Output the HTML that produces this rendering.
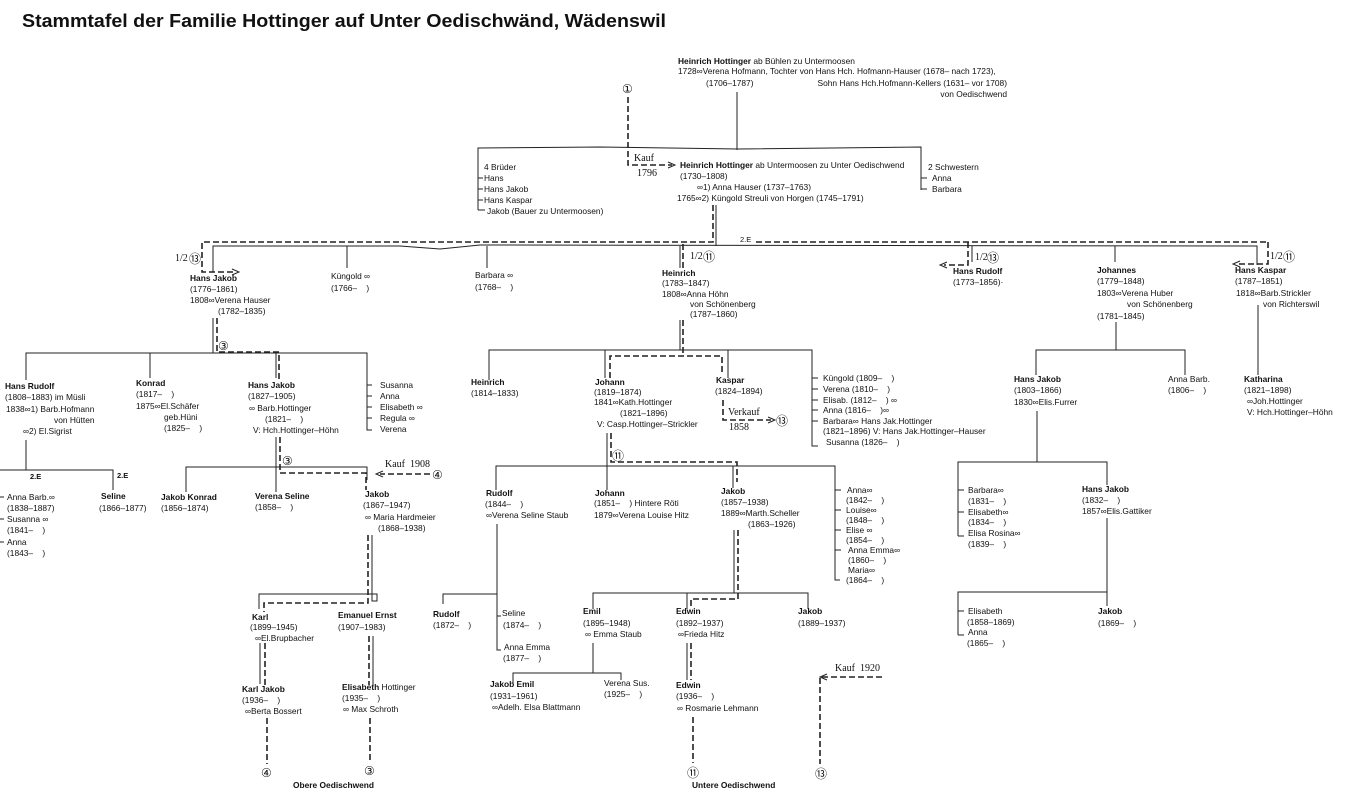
<!DOCTYPE html>
<html><head><meta charset="utf-8"><style>
html,body{margin:0;padding:0;background:#fff;}
svg{display:block;}
text{font-family:"Liberation Sans","DejaVu Sans",sans-serif;font-size:8.4px;fill:#111;}
.b{font-weight:bold;}
.s{font-family:"Liberation Serif",serif;font-size:10px;}
.c{font-family:"DejaVu Sans","Noto Sans CJK JP",sans-serif;font-size:12px;}
line,polyline,path{stroke:#222;stroke-width:1;fill:none;}
.d{stroke-dasharray:6,3;stroke-width:1.6;}
</style></head><body>
<svg width="1345" height="800" viewBox="0 0 1345 800" xmlns="http://www.w3.org/2000/svg">
<text x="22" y="27" class="b" style="font-size:18px" textLength="644" lengthAdjust="spacingAndGlyphs">Stammtafel der Familie Hottinger auf Unter Oedischwänd, Wädenswil</text>

<!-- top -->
<text x="678" y="64"><tspan class="b">Heinrich Hottinger</tspan> ab Bühlen zu Untermoosen</text>
<text x="678" y="74">1728∞Verena Hofmann, Tochter von Hans Hch. Hofmann-Hauser (1678– nach 1723),</text>
<text x="706" y="86">(1706–1787)</text>
<text x="1007" y="86" text-anchor="end">Sohn Hans Hch.Hofmann-Kellers (1631– vor 1708)</text>
<text x="1007" y="97" text-anchor="end">von Oedischwend</text>
<line x1="737" y1="92" x2="737" y2="150"/>
<text x="622" y="93" class="c">①</text>
<polyline class="d" points="628,97 628,165 672,165"/>
<path d="M668,162 L675,165 L668,168"/>
<text x="634" y="161" class="s">Kauf</text><text x="637" y="176" class="s">1796</text>
<polyline points="478,210 478,148 600,147 738,149 921,147 921,190"/>
<text x="484" y="170">4 Brüder</text>
<text x="484" y="181">Hans</text><text x="484" y="192">Hans Jakob</text><text x="484" y="203">Hans Kaspar</text><text x="487" y="214">Jakob (Bauer zu Untermoosen)</text>
<line x1="478" y1="178" x2="483" y2="178"/><line x1="478" y1="189" x2="483" y2="189"/><line x1="478" y1="200" x2="483" y2="200"/><line x1="478" y1="210" x2="485" y2="210"/>
<text x="680" y="168"><tspan class="b">Heinrich Hottinger</tspan> ab Untermoosen zu Unter Oedischwend</text>
<text x="680" y="179">(1730–1808)</text>
<text x="697" y="190">∞1) Anna Hauser (1737–1763)</text>
<text x="677" y="201">1765∞2) Küngold Streuli von Horgen (1745–1791)</text>
<text x="928" y="170">2 Schwestern</text><text x="932" y="181">Anna</text><text x="932" y="192">Barbara</text>
<line x1="921" y1="178" x2="927" y2="178"/><line x1="921" y1="189" x2="927" y2="189"/>

<!-- level 2 -->
<line x1="716" y1="205" x2="716" y2="246"/>
<polyline class="d" points="713,205 713,242 202,242 202,272 236,272"/>
<path d="M232,269 L239,272 L232,275"/>
<polyline points="213,272 213,246 400,246 440,249 480,245 1257,246 1257,265"/>
<text x="740" y="242" style="font-size:7.5px">2.E</text>
<line class="d" x1="756" y1="242" x2="1268" y2="242"/>
<text x="175" y="261" class="s">1/2</text><text x="189" y="263" class="c">⑬</text>
<text x="190" y="281" class="b">Hans Jakob</text>
<text x="190" y="292">(1776–1861)</text><text x="190" y="303">1808∞Verena Hauser</text><text x="218" y="314">(1782–1835)</text>
<line x1="347" y1="246" x2="347" y2="268"/>
<text x="331" y="279">Küngold ∞</text><text x="331" y="291">(1766–&#160;&#160;&#160;&#160;)</text>
<line x1="487" y1="246" x2="487" y2="268"/>
<text x="475" y="278">Barbara ∞</text><text x="475" y="290">(1768–&#160;&#160;&#160;&#160;)</text>
<line class="d" x1="683" y1="244" x2="683" y2="268"/><line x1="680" y1="246" x2="680" y2="268"/>
<text x="690" y="259" class="s">1/2</text><text x="703" y="261" class="c">⑪</text>
<text x="662" y="276" class="b">Heinrich</text>
<text x="662" y="286">(1783–1847)</text><text x="662" y="297">1808∞Anna Höhn</text><text x="690" y="307">von Schönenberg</text><text x="690" y="317">(1787–1860)</text>
<line x1="972" y1="246" x2="972" y2="262"/>
<polyline class="d" points="968,242 968,265 944,265"/><path d="M947,262 L940,265 L947,268"/>
<text x="975" y="260" class="s">1/2</text><text x="987" y="262" class="c">⑬</text>
<text x="953" y="274" class="b">Hans Rudolf</text><text x="953" y="285">(1773–1856)·</text>
<line x1="1115" y1="246" x2="1115" y2="262"/>
<text x="1097" y="273" class="b">Johannes</text>
<text x="1097" y="284">(1779–1848)</text><text x="1097" y="296">1803∞Verena Huber</text><text x="1127" y="307">von Schönenberg</text><text x="1097" y="319">(1781–1845)</text>
<polyline class="d" points="1268,242 1268,264 1237,264"/><path d="M1240,261 L1233,264 L1240,267"/>
<text x="1270" y="259" class="s">1/2</text><text x="1283" y="261" class="c">⑪</text>
<text x="1235" y="273" class="b">Hans Kaspar</text>
<text x="1235" y="284">(1787–1851)</text><text x="1236" y="296">1818∞Barb.Strickler</text><text x="1263" y="307">von Richterswil</text>
<line x1="1258" y1="305" x2="1258" y2="375"/>
<text x="1244" y="382" class="b">Katharina</text>
<text x="1244" y="393">(1821–1898)</text><text x="1247" y="404">∞Joh.Hottinger</text><text x="1247" y="415">V: Hch.Hottinger–Höhn</text>

<!-- Hans Jakob 1776 children -->
<line x1="213" y1="318" x2="213" y2="353"/>
<polyline class="d" points="217,318 217,352 279,352 279,380"/>
<text x="218" y="350" class="c">③</text>
<polyline points="26,380 26,353 367,353 367,430 372,430"/>
<line x1="150" y1="353" x2="150" y2="378"/><line x1="276" y1="353" x2="276" y2="378"/>
<text x="5" y="389" class="b">Hans Rudolf</text>
<text x="5" y="400">(1808–1883) im Müsli</text><text x="6" y="412">1838∞1) Barb.Hofmann</text><text x="54" y="423">von Hütten</text><text x="23" y="434">∞2) El.Sigrist</text>
<text x="136" y="386" class="b">Konrad</text>
<text x="136" y="397">(1817–&#160;&#160;&#160;&#160;)</text><text x="136" y="409">1875∞El.Schäfer</text><text x="164" y="420">geb.Hüni</text><text x="164" y="431">(1825–&#160;&#160;&#160;&#160;)</text>
<text x="248" y="388" class="b">Hans Jakob</text>
<text x="248" y="399">(1827–1905)</text><text x="249" y="411">∞ Barb.Hottinger</text><text x="265" y="422">(1821–&#160;&#160;&#160;&#160;)</text><text x="253" y="433">V: Hch.Hottinger–Höhn</text>
<text x="380" y="388">Susanna</text><text x="380" y="399">Anna</text><text x="380" y="410">Elisabeth ∞</text><text x="380" y="421">Regula ∞</text><text x="380" y="432">Verena</text>
<line x1="367" y1="385" x2="372" y2="385"/><line x1="367" y1="396" x2="372" y2="396"/><line x1="367" y1="407" x2="372" y2="407"/><line x1="367" y1="418" x2="372" y2="418"/>

<polyline points="26,440 26,470 0,470"/>
<polyline points="26,470 113,470 113,490"/>
<text x="30" y="479" class="b" style="font-size:7.5px">2.E</text><text x="117" y="478" class="b" style="font-size:7.5px">2.E</text>
<text x="7" y="500">Anna Barb.∞</text><text x="7" y="511">(1838–1887)</text><text x="7" y="522">Susanna ∞</text><text x="7" y="533">(1841–&#160;&#160;&#160;&#160;)</text><text x="7" y="545">Anna</text><text x="7" y="556">(1843–&#160;&#160;&#160;&#160;)</text>
<line x1="0" y1="497" x2="4" y2="497"/><line x1="0" y1="519" x2="4" y2="519"/><line x1="0" y1="542" x2="4" y2="542"/>
<text x="101" y="499" class="b">Seline</text><text x="99" y="511">(1866–1877)</text>

<line x1="276" y1="437" x2="276" y2="492"/>
<polyline points="186,492 186,467 367,467 367,480"/>
<polyline class="d" points="280,437 280,473 366,473 366,490"/>
<text x="282" y="465" class="c">③</text>
<text x="385" y="467" class="s">Kauf&#160;&#160;1908</text>
<line class="d" x1="430" y1="474" x2="380" y2="474"/><path d="M383,471 L376,474 L383,477"/>
<text x="432" y="479" class="c">④</text>
<text x="161" y="500" class="b">Jakob Konrad</text><text x="161" y="511">(1856–1874)</text>
<text x="255" y="499" class="b">Verena Seline</text><text x="255" y="510">(1858–&#160;&#160;&#160;&#160;)</text>
<text x="365" y="497" class="b">Jakob</text><text x="363" y="508">(1867–1947)</text><text x="365" y="520">∞ Maria Hardmeier</text><text x="378" y="531">(1868–1938)</text>

<polyline points="372,535 372,601 377,601 377,594 259,594 259,609"/>
<polyline class="d" points="368,535 368,603 264,603 264,612"/>
<text x="252" y="620" class="b">Karl</text><text x="250" y="630">(1899–1945)</text><text x="255" y="641">∞El.Brupbacher</text>
<text x="338" y="618" class="b">Emanuel Ernst</text><text x="338" y="630">(1907–1983)</text>
<line x1="260" y1="643" x2="260" y2="684"/><line class="d" x1="265" y1="643" x2="265" y2="685"/>
<line x1="373" y1="636" x2="373" y2="685"/><line class="d" x1="369" y1="636" x2="369" y2="685"/>
<text x="242" y="692" class="b">Karl Jakob</text><text x="242" y="703">(1936–&#160;&#160;&#160;&#160;)</text><text x="245" y="714">∞Berta Bossert</text>
<text x="342" y="690"><tspan class="b">Elisabeth</tspan> Hottinger</text><text x="342" y="701">(1935–&#160;&#160;&#160;&#160;)</text><text x="343" y="712">∞ Max Schroth</text>
<line class="d" x1="267" y1="718" x2="267" y2="764"/><text x="261" y="777" class="c">④</text>
<line class="d" x1="370" y1="718" x2="370" y2="762"/><text x="364" y="775" class="c">③</text>
<text x="293" y="788" class="b">Obere Oedischwend</text>

<!-- Heinrich children -->
<line x1="680" y1="320" x2="680" y2="350"/><line class="d" x1="683" y1="320" x2="683" y2="356"/>
<polyline points="489,380 489,350 812,350 812,446 818,446"/>
<line x1="605" y1="350" x2="605" y2="378"/><line x1="728" y1="350" x2="728" y2="378"/>
<polyline class="d" points="610,378 610,356 722,356 722,375"/>
<text x="471" y="385" class="b">Heinrich</text><text x="471" y="396">(1814–1833)</text>
<text x="595" y="385" class="b">Johann</text><text x="594" y="395">(1819–1874)</text><text x="594" y="405">1841∞Kath.Hottinger</text><text x="620" y="416">(1821–1896)</text><text x="597" y="427">V: Casp.Hottinger–Strickler</text>
<text x="716" y="383" class="b">Kaspar</text><text x="715" y="394">(1824–1894)</text>
<polyline class="d" points="723,400 723,420 771,420"/><path d="M768,417 L775,420 L768,423"/>
<text x="776" y="425" class="c">⑬</text>
<text x="728" y="415" class="s">Verkauf</text><text x="729" y="430" class="s">1858</text>
<text x="823" y="381">Küngold (1809–&#160;&#160;&#160;&#160;)</text><text x="823" y="392">Verena (1810–&#160;&#160;&#160;&#160;)</text><text x="823" y="403">Elisab. (1812–&#160;&#160;&#160;&#160;) ∞</text><text x="823" y="413">Anna (1816–&#160;&#160;&#160;&#160;)∞</text><text x="823" y="424">Barbara∞ Hans Jak.Hottinger</text><text x="823" y="434">(1821–1896) V: Hans Jak.Hottinger–Hauser</text><text x="826" y="445">Susanna (1826–&#160;&#160;&#160;&#160;)</text>
<line x1="812" y1="378" x2="818" y2="378"/><line x1="812" y1="389" x2="818" y2="389"/><line x1="812" y1="400" x2="818" y2="400"/><line x1="812" y1="410" x2="818" y2="410"/><line x1="812" y1="421" x2="818" y2="421"/>

<line x1="607" y1="433" x2="607" y2="490"/>
<polyline class="d" points="611,433 611,462 737,462 737,482"/>
<text x="612" y="460" class="c">⑪</text>
<polyline points="496,490 496,466 835,466 835,580 840,580"/>
<line x1="733" y1="466" x2="733" y2="488"/>
<text x="486" y="496" class="b">Rudolf</text><text x="485" y="507">(1844–&#160;&#160;&#160;&#160;)</text><text x="486" y="518">∞Verena Seline Staub</text>
<text x="595" y="496" class="b">Johann</text><text x="594" y="506">(1851–&#160;&#160;&#160;&#160;) Hintere Röti</text><text x="594" y="518">1879∞Verena Louise Hitz</text>
<text x="721" y="494" class="b">Jakob</text><text x="721" y="505">(1857–1938)</text><text x="721" y="516">1889∞Marth.Scheller</text><text x="748" y="527">(1863–1926)</text>
<text x="847" y="493">Anna∞</text><text x="846" y="503">(1842–&#160;&#160;&#160;&#160;)</text><text x="846" y="513">Louise∞</text><text x="846" y="523">(1848–&#160;&#160;&#160;&#160;)</text><text x="846" y="533">Elise ∞</text><text x="846" y="543">(1854–&#160;&#160;&#160;&#160;)</text><text x="848" y="553">Anna Emma∞</text><text x="848" y="563">(1860–&#160;&#160;&#160;&#160;)</text><text x="848" y="573">Maria∞</text><text x="846" y="583">(1864–&#160;&#160;&#160;&#160;)</text>
<line x1="835" y1="490" x2="841" y2="490"/><line x1="835" y1="510" x2="841" y2="510"/><line x1="835" y1="530" x2="841" y2="530"/><line x1="835" y1="550" x2="841" y2="550"/>

<polyline points="497,524 497,594 443,594 443,604"/>
<polyline points="497,594 497,616 501,616"/><polyline points="497,616 497,650 501,650"/>
<text x="433" y="617" class="b">Rudolf</text><text x="433" y="628">(1872–&#160;&#160;&#160;&#160;)</text>
<text x="502" y="616">Seline</text><text x="503" y="628">(1874–&#160;&#160;&#160;&#160;)</text><text x="504" y="650">Anna Emma</text><text x="503" y="661">(1877–&#160;&#160;&#160;&#160;)</text>

<line x1="734" y1="530" x2="734" y2="593"/>
<polyline class="d" points="738,530 738,599 691,599 691,609"/>
<polyline points="593,609 593,593 808,593 808,609"/><line x1="687" y1="593" x2="687" y2="609"/>
<text x="583" y="614" class="b">Emil</text><text x="583" y="626">(1895–1948)</text><text x="585" y="637">∞ Emma Staub</text>
<text x="676" y="614" class="b">Edwin</text><text x="676" y="626">(1892–1937)</text><text x="678" y="637">∞Frieda Hitz</text>
<text x="798" y="614" class="b">Jakob</text><text x="798" y="626">(1889–1937)</text>
<polyline points="593,643 593,673"/><polyline points="513,683 513,673 621,673 621,680"/>
<text x="490" y="687" class="b">Jakob Emil</text><text x="490" y="699">(1931–1961)</text><text x="492" y="710">∞Adelh. Elsa Blattmann</text>
<text x="604" y="686">Verena Sus.</text><text x="604" y="697">(1925–&#160;&#160;&#160;&#160;)</text>
<line x1="687" y1="643" x2="687" y2="680"/><line class="d" x1="691" y1="643" x2="691" y2="680"/>
<text x="676" y="688" class="b">Edwin</text><text x="676" y="699">(1936–&#160;&#160;&#160;&#160;)</text><text x="677" y="711">∞ Rosmarie Lehmann</text>
<line class="d" x1="693" y1="717" x2="693" y2="763"/><text x="687" y="777" class="c">⑪</text>
<text x="692" y="788" class="b">Untere Oedischwend</text>
<text x="835" y="671" class="s">Kauf&#160;&#160;1920</text>
<polyline class="d" points="882,677 820,677 820,764"/><path d="M827,674 L820,677 L827,680"/>
<text x="815" y="778" class="c">⑬</text>

<!-- Johannes children -->
<line x1="1116" y1="322" x2="1116" y2="350"/>
<polyline points="1036,375 1036,350 1185,350 1185,375"/>
<text x="1014" y="382" class="b">Hans Jakob</text><text x="1014" y="393">(1803–1866)</text><text x="1014" y="405">1830∞Elis.Furrer</text>
<text x="1168" y="382">Anna Barb.</text><text x="1168" y="393">(1806–&#160;&#160;&#160;&#160;)</text>
<line x1="1037" y1="411" x2="1037" y2="462"/>
<polyline points="958,536 958,462 1107,462 1107,485"/>
<line x1="958" y1="490" x2="964" y2="490"/><line x1="958" y1="512" x2="964" y2="512"/><line x1="958" y1="536" x2="964" y2="536"/>
<text x="968" y="493">Barbara∞</text><text x="968" y="504">(1831–&#160;&#160;&#160;&#160;)</text><text x="968" y="515">Elisabeth∞</text><text x="968" y="525">(1834–&#160;&#160;&#160;&#160;)</text><text x="968" y="536">Elisa Rosina∞</text><text x="968" y="547">(1839–&#160;&#160;&#160;&#160;)</text>
<text x="1082" y="492" class="b">Hans Jakob</text><text x="1082" y="503">(1832–&#160;&#160;&#160;&#160;)</text><text x="1082" y="514">1857∞Elis.Gattiker</text>
<line x1="1107" y1="518" x2="1107" y2="606"/>
<polyline points="958,635 958,592 1107,592"/>
<line x1="958" y1="611" x2="964" y2="611"/><line x1="958" y1="635" x2="964" y2="635"/>
<text x="968" y="614">Elisabeth</text><text x="967" y="625">(1858–1869)</text><text x="968" y="635">Anna</text><text x="967" y="646">(1865–&#160;&#160;&#160;&#160;)</text>
<text x="1098" y="614" class="b">Jakob</text><text x="1098" y="626">(1869–&#160;&#160;&#160;&#160;)</text>
</svg>
</body></html>
